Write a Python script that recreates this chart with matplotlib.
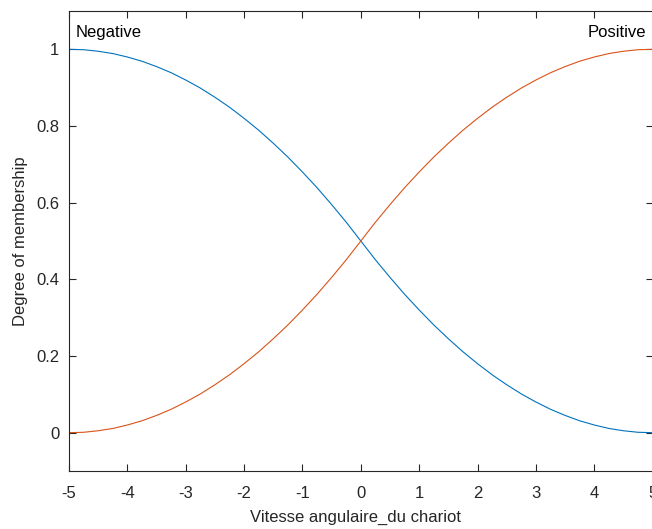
import numpy as np
import matplotlib
matplotlib.use("Agg")
import matplotlib.pyplot as plt

plt.rcParams['font.family'] = ['Liberation Sans', 'DejaVu Sans']

# Membership degrees sampled along the input range (step 0.25)
x = [-5, -4.75, -4.5, -4.25, -4, -3.75, -3.5, -3.25, -3, -2.75, -2.5,
     -2.25, -2, -1.75, -1.5, -1.25, -1, -0.75, -0.5, -0.25, 0,
     0.25, 0.5, 0.75, 1, 1.25, 1.5, 1.75, 2, 2.25, 2.5,
     2.75, 3, 3.25, 3.5, 3.75, 4, 4.25, 4.5, 4.75, 5]
negative = [1.0, 0.999, 0.995, 0.989, 0.98, 0.969, 0.955, 0.939, 0.92, 0.899, 0.875,
            0.849, 0.82, 0.789, 0.755, 0.719, 0.68, 0.639, 0.595, 0.549, 0.5,
            0.451, 0.405, 0.361, 0.32, 0.281, 0.245, 0.211, 0.18, 0.151, 0.125,
            0.101, 0.08, 0.061, 0.045, 0.031, 0.02, 0.011, 0.005, 0.001, 0.0]
positive = [0.0, 0.001, 0.005, 0.011, 0.02, 0.031, 0.045, 0.061, 0.08, 0.101, 0.125,
            0.151, 0.18, 0.211, 0.245, 0.281, 0.32, 0.361, 0.405, 0.451, 0.5,
            0.549, 0.595, 0.639, 0.68, 0.719, 0.755, 0.789, 0.82, 0.849, 0.875,
            0.899, 0.92, 0.939, 0.955, 0.969, 0.98, 0.989, 0.995, 0.999, 1.0]
xticks = [-5, -4, -3, -2, -1, 0, 1, 2, 3, 4, 5]
yticks = [0, 0.2, 0.4, 0.6, 0.8, 1]

fig = plt.figure(figsize=(6.52, 5.29), dpi=100)
ax = fig.add_axes([69 / 652, 58 / 529, 1.0 - 69 / 652 + 0.001, 460 / 529])

blue = (0.0, 0.447, 0.741)
orange = (0.85, 0.325, 0.098)
ax.plot(x, negative, color=blue, lw=0.8, solid_joinstyle='round')
ax.plot(x, positive, color=orange, lw=0.8, solid_joinstyle='round')

ax.set_xlim(-5, 5)
ax.set_ylim(-0.1, 1.1)
ax.set_xticks(xticks)
ax.set_xticklabels([str(t) for t in xticks])
ax.set_yticks(yticks)
ax.set_yticklabels(['0', '0.2', '0.4', '0.6', '0.8', '1'])

dark = (0.15, 0.15, 0.15)
for s in ax.spines.values():
    s.set_color(dark)
    s.set_linewidth(0.8)
ax.tick_params(direction='in', length=5, width=0.8, colors=dark,
               labelcolor=dark, labelsize=12, top=True, right=True)
ax.tick_params(axis='x', pad=11)
ax.tick_params(axis='y', pad=7)

ax.set_xlabel('Vitesse angulaire_du chariot', fontsize=12, color=dark)
ax.set_ylabel('Degree of membership', fontsize=12, color=dark)
ax.xaxis.set_label_coords((355 - 69) / 583, (471 - 517) / 460)
ax.yaxis.set_label_coords((21 - 69) / 583, (471 - 241) / 460)
ax.xaxis.label.set_va('center')
ax.yaxis.label.set_va('center')

ax.text(-4.88, 1.044, 'Negative', fontsize=12, ha='left', va='center')
ax.text(4.88, 1.044, 'Positive', fontsize=12, ha='right', va='center')

fig.savefig('out.png', dpi=100)
